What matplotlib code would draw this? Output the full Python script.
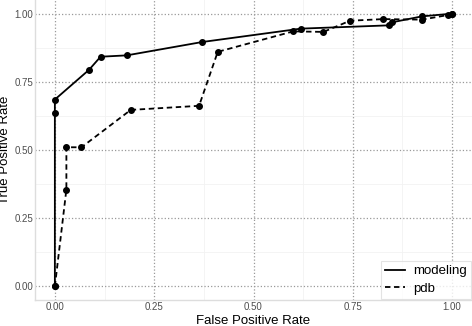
import numpy as np
import matplotlib.pyplot as plt

plt.rcParams['font.family'] = ['Liberation Sans', 'DejaVu Sans']

# ROC curve points
modeling_fpr = [0.0, 0.0, 0.0, 0.086, 0.115, 0.181, 0.371, 0.619, 0.840, 0.848, 0.924, 1.0]
modeling_tpr = [0.0, 0.637, 0.685, 0.794, 0.842, 0.847, 0.896, 0.945, 0.957, 0.968, 0.990, 1.0]

pdb_fpr = [0.0, 0.029, 0.029, 0.067, 0.191, 0.363, 0.410, 0.600, 0.676, 0.743, 0.827, 0.924, 0.990, 1.0]
pdb_tpr = [0.0, 0.355, 0.510, 0.510, 0.647, 0.662, 0.860, 0.935, 0.933, 0.974, 0.980, 0.978, 0.995, 1.0]

ticks = [0.0, 0.25, 0.5, 0.75, 1.0]
tick_labels = ["0.00", "0.25", "0.50", "0.75", "1.00"]

fig = plt.figure(figsize=(4.72, 3.26), dpi=100)
ax = fig.add_axes([35 / 472, 26 / 326, 437 / 472, 300 / 326])

ax.plot(modeling_fpr, modeling_tpr, color="black", lw=1.3, ls="-",
        marker="o", ms=4, label="modeling")
ax.plot(pdb_fpr, pdb_tpr, color="black", lw=1.3, ls=(0, (3, 2)),
        marker="o", ms=4, label="pdb")

ax.set_xlim(-0.05, 1.05)
ax.set_ylim(-0.05, 1.05)
ax.set_xticks(ticks)
ax.set_xticklabels(tick_labels)
ax.set_yticks(ticks)
ax.set_yticklabels(tick_labels)
ax.set_xticks([0.125, 0.375, 0.625, 0.875], minor=True)
ax.set_yticks([0.125, 0.375, 0.625, 0.875], minor=True)

ax.grid(True, which="major", color="#999999", ls=":", lw=0.9)
ax.grid(True, which="minor", color="#f2f2f2", ls="-", lw=0.6)
ax.set_axisbelow(True)

ax.tick_params(which="major", length=0, labelsize=7, labelcolor="#4d4d4d", pad=1.5)
ax.tick_params(which="minor", length=0)
for side in ["top", "right"]:
    ax.spines[side].set_visible(False)
for side in ["left", "bottom"]:
    ax.spines[side].set_color("#dddddd")
    ax.spines[side].set_linewidth(1.0)

ax.set_xlabel("False Positive Rate", fontsize=9.5, labelpad=2)
ax.set_ylabel("True Positive Rate", fontsize=9.5, labelpad=2)

leg = ax.legend(loc="lower right", fontsize=9.5, frameon=True, fancybox=False,
                handlelength=1.5, borderaxespad=0.1, handletextpad=0.6,
                borderpad=0.3, labelspacing=0.4)
leg.get_frame().set_edgecolor("#dddddd")
leg.get_frame().set_linewidth(0.8)
for h in leg.legend_handles:
    h.set_marker("")

plt.savefig("out.png", dpi=100)
plt.close()
